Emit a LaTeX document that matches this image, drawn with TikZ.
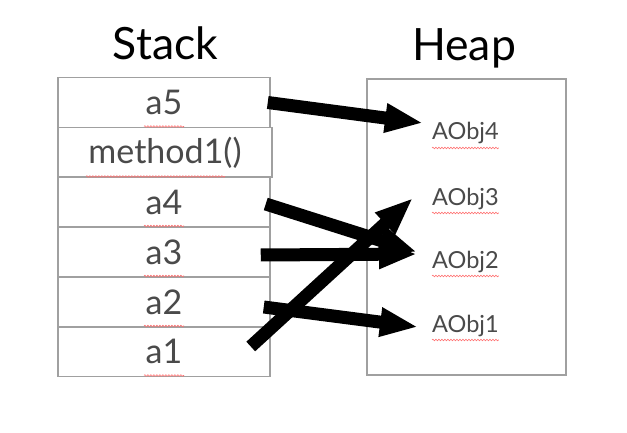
\documentclass[tikz,border=0pt]{standalone}
\usepackage{fontspec}
\setmainfont{Lato}
\usetikzlibrary{arrows.meta,decorations.pathmorphing}
\definecolor{boxgray}{HTML}{A0A0A0}
\definecolor{txtgray}{HTML}{4A4A4A}
\begin{document}
\begin{tikzpicture}[x=1pt,y=-1pt,
  row/.style={draw=boxgray,line width=1.5pt,minimum width=212pt,minimum height=50pt,inner sep=0pt,
    font=\fontsize{34}{34}\selectfont,text=txtgray},
  heapbox/.style={draw=boxgray,line width=1.5pt,minimum width=199pt,minimum height=296pt,inner sep=0pt},
  title/.style={font=\fontsize{44.5}{44.5}\selectfont,anchor=base,inner sep=0pt},
  obj/.style={font=\fontsize{23.5}{23.5}\selectfont,text=txtgray,anchor=base west,inner sep=0pt},
  ref/.style={line width=13pt,-{Triangle[length=38pt,width=27pt]}},
  spell/.style={draw=red!55,line width=0.6pt,decorate,decoration={snake,amplitude=0.8pt,segment length=3pt}}]
\path[use as bounding box,fill=white] (0,0) rectangle (627,433);
\node[title] (st) at (165.5,60) {Stack};
\node[title] (hp) at (464,61) {Heap};
\node[heapbox] (heap) at (466.5,227) {};
\node[row] (a5) at (164,102.5) {a5};
\node[row,minimum width=214pt] (m1) at (165,152.5) {method1()};
\node[row] (a4) at (164,202) {a4};
\node[row] (a3) at (164,252) {a3};
\node[row] (a2) at (164,302) {a2};
\node[row] (a1) at (164,351.5) {a1};
\node[obj] (o4) at (432,140) {AObj4};
\node[obj] (o3) at (432,205) {AObj3};
\node[obj] (o2) at (432,268) {AObj2};
\node[obj] (o1) at (432,332) {AObj1};
% spell-check marks
\foreach \n in {a5,a4,a3,a2,a1}{
  \draw[spell] ([shift={(-20,24)}]\n.center) -- ([shift={(20,24)}]\n.center);
}
\draw[spell] ([shift={(-79,24)}]m1.center) -- ([shift={(60,24)}]m1.center);
\foreach \n in {o4,o3,o2,o1}{
  \draw[spell] ([shift={(0,8)}]\n.base west) -- ([shift={(0,8)}]\n.base east);
}
% references
\draw[ref] ([shift={(-3,0)}]a5.east) -- ([shift={(-9,-17)}]o4.base west);
\draw[ref] ([shift={(-5,2)}]a4.east) -- ([shift={(-15,-16)}]o2.base west);
\draw[ref] ([shift={(-10,3)}]a3.east) -- ([shift={(-15,-14)}]o2.base west);
\draw[ref] ([shift={(-7,5)}]a2.east) -- ([shift={(-14,-5)}]o1.base west);
\draw[ref] ([shift={(-20,-5)}]a1.east) -- ([shift={(-19,-7)}]o3.base west);
\end{tikzpicture}
\end{document}
